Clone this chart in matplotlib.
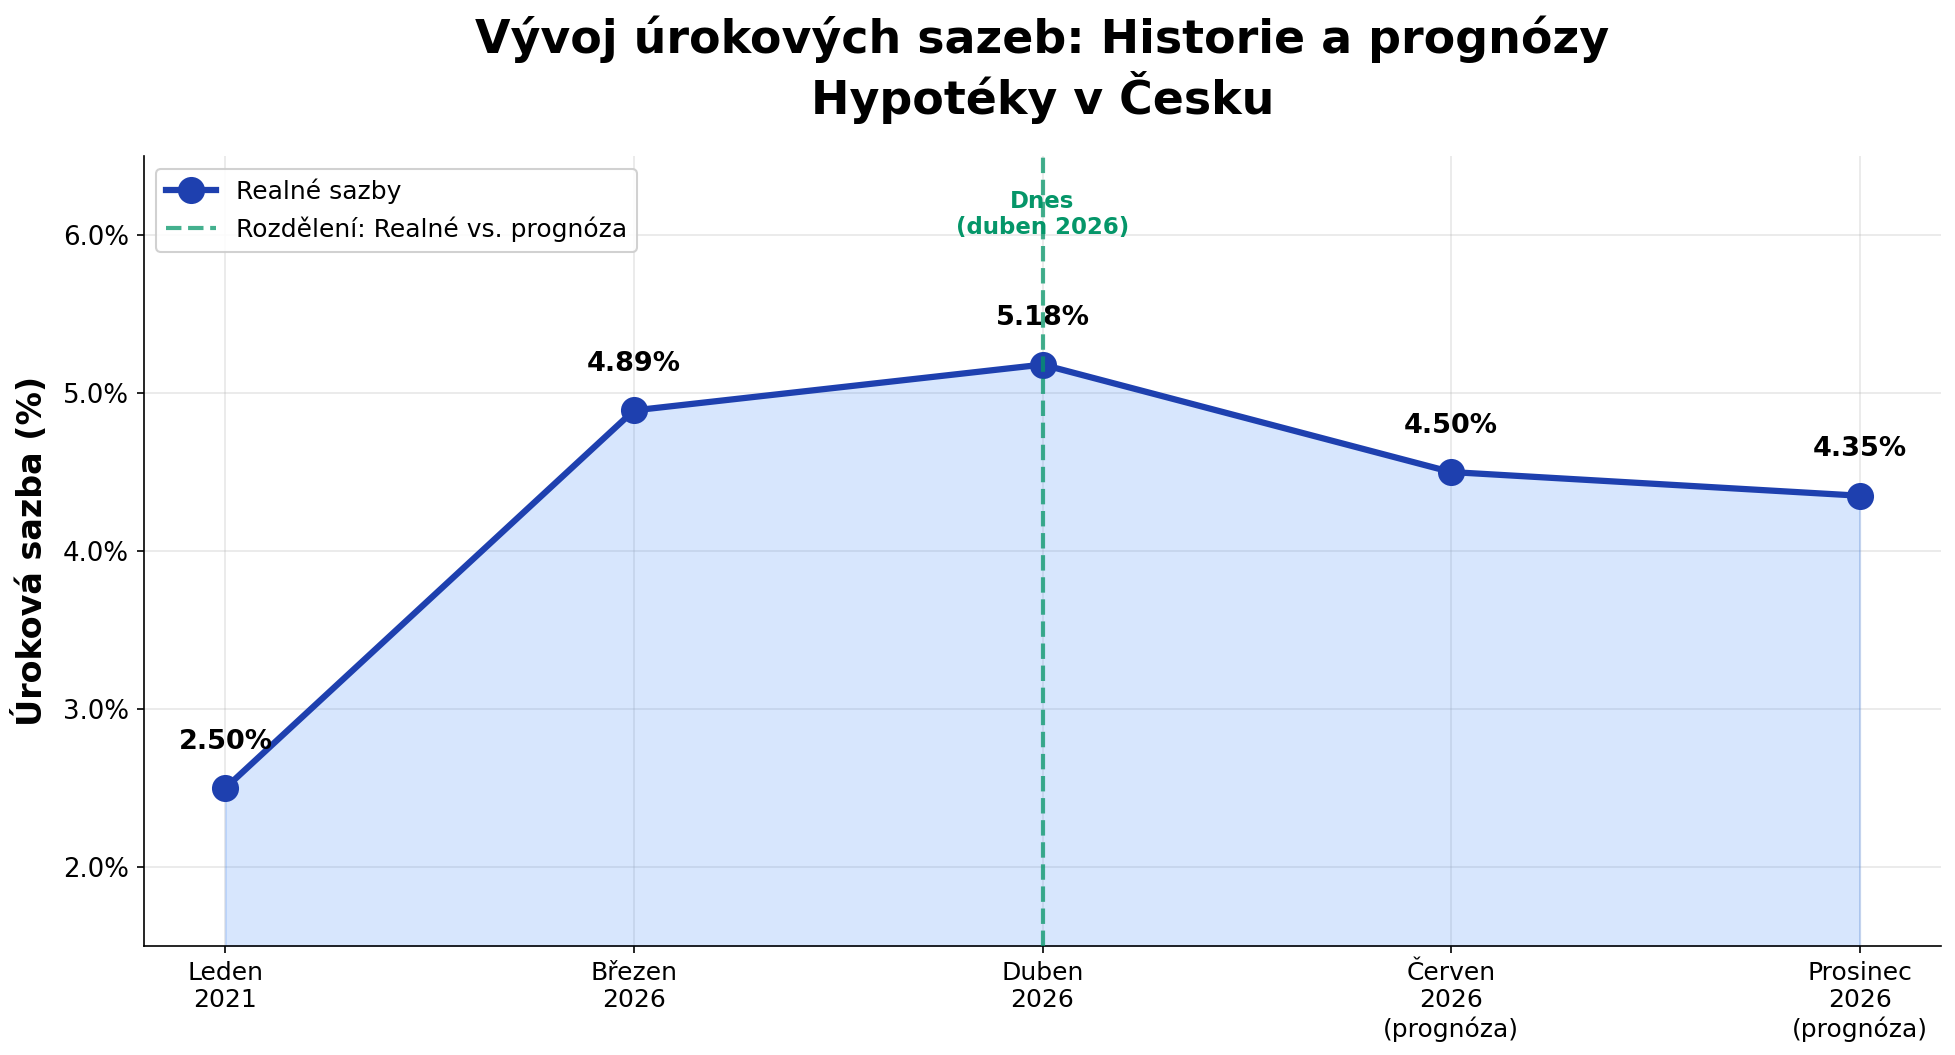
import matplotlib
matplotlib.use("Agg")
import matplotlib.pyplot as plt
import matplotlib.ticker as ticker

# data
months = ["Leden\n2021", "Březen\n2026", "Duben\n2026",
          "Červen\n2026\n(prognóza)", "Prosinec\n2026\n(prognóza)"]
rates = [2.50, 4.89, 5.18, 4.50, 4.35]
split_index = 2
split_label = "Dnes\n(duben 2026)"

LINE = "#1e40af"
FILL = "#3b82f6"
GREEN = "#059669"

fig = plt.figure(figsize=(1955 / 150, 1055 / 150), dpi=150)
ax = fig.add_axes([0.0735, 0.1033, 0.9195, 0.7488])

x = list(range(len(rates)))

# filled area under the line
ax.fill_between(x, rates, 1.5, color=FILL, alpha=0.2, zorder=2)

ax.plot(x, rates, color=LINE, linewidth=3, marker="o", markersize=12,
        label="Realné sazby", zorder=3)

# value labels above points
for xi, r in zip(x, rates):
    ax.annotate(f"{r:.2f}%", (xi, r), xytext=(0, 16), textcoords="offset points",
                ha="center", va="bottom", fontsize=13, fontweight="bold",
                color="black", zorder=4)

# split between real and forecast
ax.axvline(split_index, color=GREEN, linestyle="--", linewidth=2, alpha=0.75,
           label="Rozdělení: Realné vs. prognóza", zorder=5)
ax.text(split_index, 6.13, split_label, ha="center", va="center",
        fontsize=11, fontweight="bold", color=GREEN, zorder=4)

ax.set_xlim(-0.2, 4.2)
ax.set_ylim(1.5, 6.5)
ax.set_xticks(x)
ax.set_xticklabels(months, fontsize=12)
ax.set_yticks([2, 3, 4, 5, 6])
ax.yaxis.set_major_formatter(ticker.FuncFormatter(lambda v, _: f"{v:.1f}%"))
ax.tick_params(axis="y", labelsize=12.5)

ax.set_ylabel("Úroková sazba (%)", fontsize=16, fontweight="bold", labelpad=7)
ax.set_title("Vývoj úrokových sazeb: Historie a prognózy\nHypotéky v Česku",
             fontsize=22, fontweight="bold", pad=20)

ax.grid(True, alpha=0.3, zorder=0)
ax.set_axisbelow(True)
ax.spines[["top", "right"]].set_visible(False)

ax.legend(loc="upper left", fontsize=12, framealpha=0.9)

fig.savefig("out.png", dpi=150)
